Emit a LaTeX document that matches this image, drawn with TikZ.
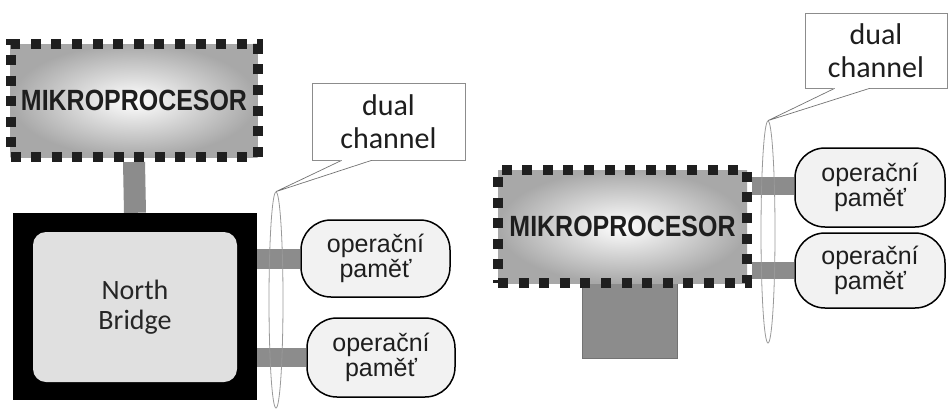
\documentclass[tikz,border=0pt]{standalone}
\usepackage{fontspec}
\usepackage{graphicx}
\setmainfont{Liberation Sans}
\newfontfamily\hum{Carlito}
\usetikzlibrary{shapes.geometric,calc}
\pgfdeclarelayer{paper}
\pgfdeclarelayer{bg}
\pgfsetlayers{paper,bg,main}
\definecolor{txt}{HTML}{1E1E1E}
\definecolor{bargray}{HTML}{8C8C8C}
\definecolor{cpuedge}{HTML}{A8A8A8}
\newcommand{\cputext}{\scalebox{1.04}[1.22]{MIKROPROCESOR}}
\tikzset{
  cpu/.style={rectangle, inner color=white, outer color=cpuedge,
    draw=black!88, line width=10pt, dash pattern=on 10pt off 10.6pt,
    font=\fontsize{24}{26}\selectfont\bfseries, text=txt, inner sep=0pt},
  nbouter/.style={rectangle, fill=black, draw=none},
  nbinner/.style={rectangle, fill=black!12, rounded corners=13pt, draw=none,
    font=\hum\fontsize{28}{30}\selectfont, text=black!85, align=center},
  mem/.style={rectangle, rounded corners=30pt, fill=black!5, draw=black,
    line width=1.5pt, font=\fontsize{25}{24.5}\selectfont, text=txt, align=center, inner sep=0pt},
  bar/.style={draw=bargray, line cap=butt},
  chan/.style={ellipse, draw=black!40, line width=0.8pt, inner sep=0pt},
  callbox/.style={rectangle, draw=black!45, fill=white, line width=0.7pt,
    font=\hum\fontsize{30}{33}\selectfont, text=txt, align=center},
  pointer/.style={draw=black!55, line width=0.7pt},
}
\begin{document}
\begin{tikzpicture}[x=1pt,y=-1pt]
\begin{pgfonlayer}{paper}
\useasboundingbox[fill=white] (0,0) rectangle (949,410);
\end{pgfonlayer}

% ---------------- left diagram ----------------
\node[cpu, minimum width=247pt, minimum height=113pt] (cpuL) at (134,100.5) {\cputext};
\node[nbouter, minimum width=244pt, minimum height=187pt] (nbL) at (135,306.5) {};
\node[nbinner, minimum width=204pt, minimum height=150pt] (nbiL) at (135,307) {North\\Bridge};
\node[mem, minimum width=149pt, minimum height=77pt] (memL1) at (375.5,258.5) {operační\\paměť};
\node[mem, minimum width=148pt, minimum height=79pt] (memL2) at (381,357.5) {operační\\paměť};

\begin{pgfonlayer}{bg}
\draw[bar, line width=22pt] (cpuL.south) -- (nbL.north);
\draw[bar, line width=20pt] (nbL.east |- memL1.west) -- (memL1.west);
\draw[bar, line width=19pt] (nbL.east |- memL2.west) -- (memL2.west);
\end{pgfonlayer}

\node[chan, minimum width=14pt, minimum height=216pt] (elL) at (276,300) {};

\node[callbox, minimum width=153pt, minimum height=77pt] (calL) at (388.5,121.5) {dual\\channel};
\coordinate (calLa) at ($(calL.south west)+(30,0)$);
\coordinate (calLb) at ($(calL.south west)+(60,0)$);
\fill[white] ($(calLa)+(1,-1)$) -- (elL.north) -- ($(calLb)+(-1,-1)$) -- cycle;
\draw[white, line width=2pt] ($(calLa)+(1,0)$) -- ($(calLb)+(-1,0)$);
\draw[pointer] (calLa) -- (elL.north) -- (calLb);

% ---------------- right diagram ----------------
\node[rectangle, fill=black!45, draw=black!55, line width=0.6pt, minimum width=95pt, minimum height=75pt] (sbR) at (629.5,320.5) {};
\node[cpu, minimum width=249pt, minimum height=113pt] (cpuR) at (622.5,226.5) {\cputext};
\node[mem, minimum width=150pt, minimum height=79pt] (memR1) at (870,187.5) {operační\\paměť};
\node[mem, minimum width=150pt, minimum height=75pt] (memR2) at (870,270.5) {operační\\paměť};
\begin{pgfonlayer}{bg}
\draw[bar, line width=18pt] (cpuR.east |- 0,186) -- (memR1.west |- 0,186);
\draw[bar, line width=17pt] (cpuR.east |- memR2.west) -- (memR2.west);
\end{pgfonlayer}

\node[chan, minimum width=14pt, minimum height=222pt] (elR) at (768,232) {};

\node[callbox, minimum width=142pt, minimum height=75pt] (calR) at (876,50.5) {dual\\channel};
\coordinate (calRa) at ($(calR.south west)+(30,0)$);
\coordinate (calRb) at ($(calR.south west)+(65,0)$);
\fill[white] ($(calRa)+(1,-1)$) -- (elR.north) -- ($(calRb)+(-1,-1)$) -- cycle;
\draw[white, line width=2pt] ($(calRa)+(1,0)$) -- ($(calRb)+(-1,0)$);
\draw[pointer] (calRa) -- (elR.north) -- (calRb);
\end{tikzpicture}
\end{document}
